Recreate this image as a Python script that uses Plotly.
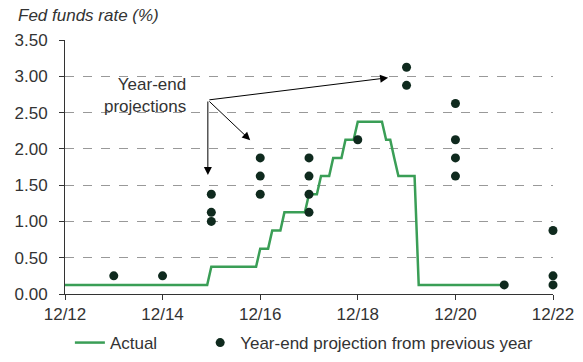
import plotly.graph_objects as go

# Actual fed funds rate (midpoint of target range), month-end change points
actual_dates = ["2012-12-31", "2015-11-30", "2015-12-31", "2016-11-30", "2016-12-31",
                "2017-02-28", "2017-03-31", "2017-05-31", "2017-06-30", "2017-11-30",
                "2017-12-31", "2018-02-28", "2018-03-31", "2018-05-31", "2018-06-30",
                "2018-08-31", "2018-09-30", "2018-11-30", "2018-12-31", "2019-06-30",
                "2019-07-31", "2019-08-31", "2019-09-30", "2019-10-31", "2020-02-29",
                "2020-03-31", "2021-12-31"]
actual_values = [0.125, 0.125, 0.375, 0.375, 0.625,
                 0.625, 0.875, 0.875, 1.125, 1.125,
                 1.375, 1.375, 1.625, 1.625, 1.875,
                 1.875, 2.125, 2.125, 2.375, 2.375,
                 2.125, 2.125, 1.875, 1.625, 1.625,
                 0.125, 0.125]

# Year-end projections from previous year
proj_dates = ["2013-12-31", "2014-12-31",
              "2015-12-31", "2015-12-31", "2015-12-31",
              "2016-12-31", "2016-12-31", "2016-12-31",
              "2017-12-31", "2017-12-31", "2017-12-31", "2017-12-31",
              "2018-12-31",
              "2019-12-31", "2019-12-31",
              "2020-12-31", "2020-12-31", "2020-12-31", "2020-12-31",
              "2021-12-31",
              "2022-12-31", "2022-12-31", "2022-12-31"]
proj_values = [0.25, 0.25,
               1.375, 1.125, 1.0,
               1.875, 1.625, 1.375,
               1.875, 1.625, 1.375, 1.125,
               2.125,
               3.125, 2.875,
               2.625, 2.125, 1.875, 1.625,
               0.125,
               0.875, 0.25, 0.125]

tick_dates = ["2012-12-31", "2014-12-31", "2016-12-31", "2018-12-31", "2020-12-31", "2022-12-31"]
tick_labels = ["12/12", "12/14", "12/16", "12/18", "12/20", "12/22"]
y_ticks = [0, 0.5, 1.0, 1.5, 2.0, 2.5, 3.0, 3.5]

GREEN = "#3a9e56"
DOT = "#0f2a1e"
TXT = "#333333"
FONT = "Liberation Sans, Arial, sans-serif"
FS = 17

fig = go.Figure()
fig.add_trace(go.Scatter(x=actual_dates, y=actual_values, mode="lines", name="Actual",
                         line=dict(color=GREEN, width=2.5), cliponaxis=False, legend="legend"))
fig.add_trace(go.Scatter(x=proj_dates, y=proj_values, mode="markers",
                         name="Year-end projection from previous year",
                         marker=dict(color=DOT, size=9), cliponaxis=False, legend="legend2"))

# Annotation text
fig.add_annotation(xref="paper", yref="paper", x=0.252, y=0.783, xanchor="right", yanchor="middle",
                   align="right", showarrow=False, text="Year-end<br>projections",
                   font=dict(size=FS, color=TXT, family=FONT))

tail_x, tail_y = "2015-12-05", 2.673
heads = [("2015-12-05", 1.64), ("2016-10-17", 2.12), ("2019-08-15", 2.98)]
for hx, hy in heads:
    fig.add_annotation(x=hx, y=hy, ax=tail_x, ay=tail_y, xref="x", yref="y",
                       axref="x", ayref="y", text="", showarrow=True,
                       arrowhead=2, arrowsize=1.6, arrowwidth=1, arrowcolor="#000000")

fig.add_annotation(xref="paper", yref="paper", x=-0.100, y=1.098, xanchor="left", yanchor="middle",
                   showarrow=False, text="<i>Fed funds rate (%)</i>",
                   font=dict(size=FS, color=TXT, family=FONT))

fig.update_layout(
    width=583, height=362,
    margin=dict(l=65, r=30, t=40, b=68, autoexpand=False),
    paper_bgcolor="white", plot_bgcolor="white",
    font=dict(family=FONT, size=FS, color=TXT),
    showlegend=True,
    legend=dict(orientation="h", x=0.010, xanchor="left", y=-0.193, yanchor="middle",
                font=dict(size=FS, color=TXT), bgcolor="rgba(0,0,0,0)"),
    legend2=dict(orientation="h", x=0.277, xanchor="left", y=-0.193, yanchor="middle",
                 font=dict(size=FS, color=TXT), bgcolor="rgba(0,0,0,0)"),
)

fig.update_xaxes(type="date", range=["2012-12-31", "2022-12-31"],
                 tickvals=tick_dates, ticktext=tick_labels, automargin=False,
                 showgrid=False, showline=True, linecolor=TXT, linewidth=1,
                 ticks="outside", ticklen=5, tickcolor=TXT, zeroline=False,
                 tickfont=dict(size=FS, color=TXT))
fig.update_yaxes(range=[0, 3.5], tickvals=y_ticks, tickformat=".2f", automargin=False,
                 showgrid=True, gridcolor="#999999", griddash="dash", gridwidth=1,
                 showline=True, linecolor=TXT, linewidth=1,
                 ticks="outside", ticklen=5, tickcolor=TXT, zeroline=False,
                 ticklabelstandoff=8,
                 tickfont=dict(size=FS, color=TXT))

fig.write_html("out.html", config={"displayModeBar": False},
               post_script="document.body.style.margin='0';")
